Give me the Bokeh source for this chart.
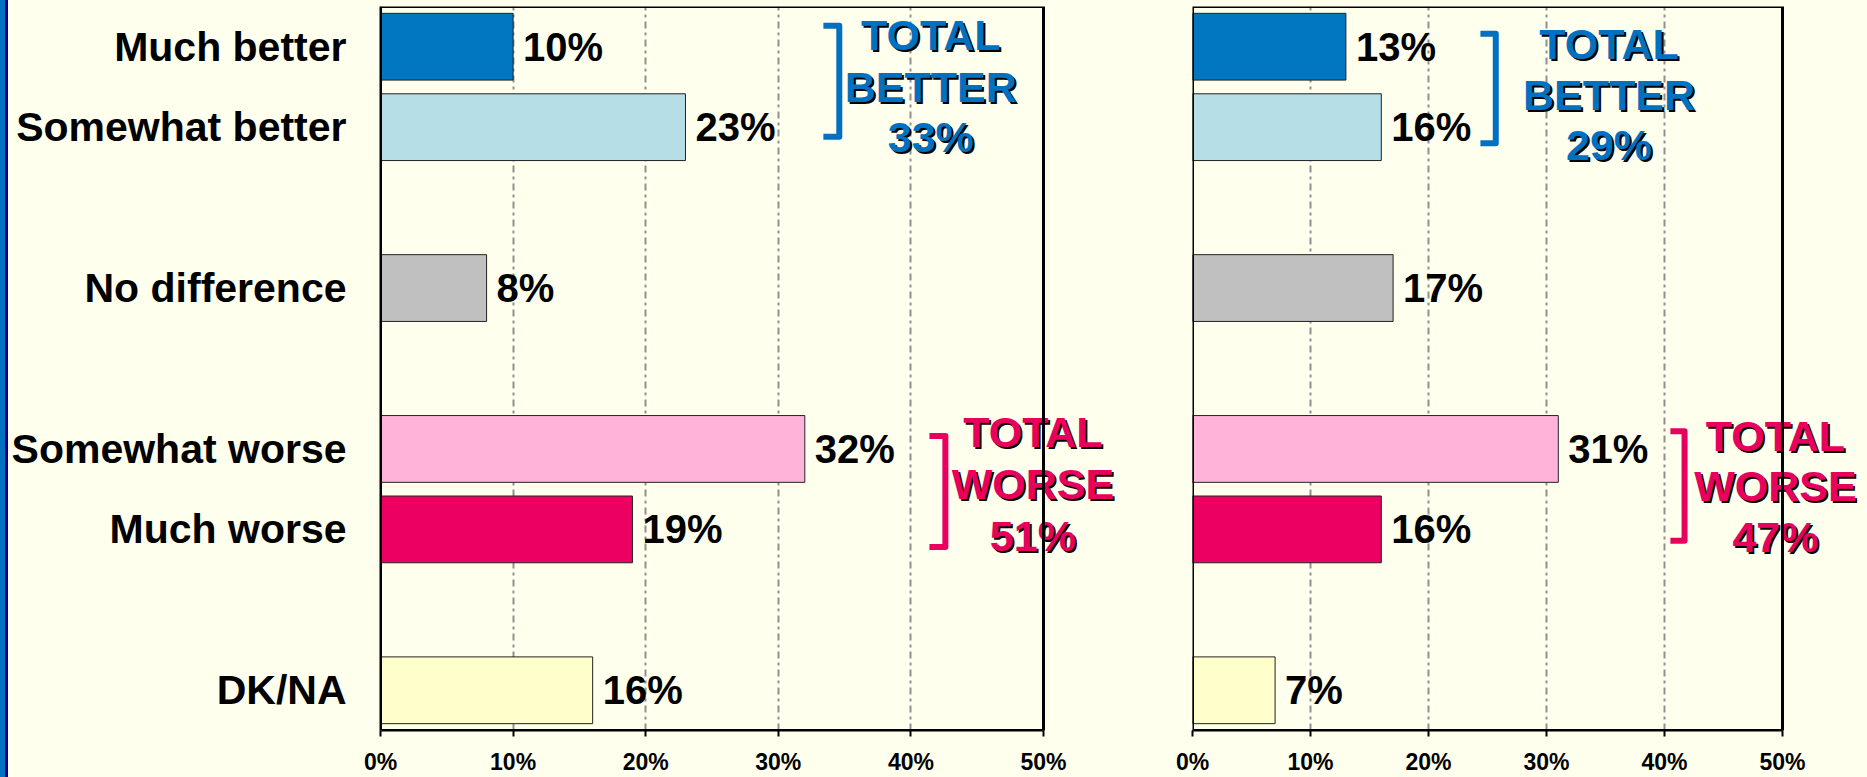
from bokeh.plotting import figure
from bokeh.models import (ColumnDataSource, LabelSet, Label, FactorRange, Range1d,
                          FixedTicker, BoxAnnotation)
from bokeh.core.properties import value
from bokeh.layouts import row
from bokeh.embed import file_html
from bokeh.resources import INLINE

# ---------------- data ----------------
answers = ["Much better", "Somewhat better", "No difference", "Somewhat worse", "Much worse", "DK/NA"]
# category axis, with blank spacer rows between the answer groups
categories = ["Much better", "Somewhat better", " ", "No difference", "  ",
              "Somewhat worse", "Much worse", "   ", "DK/NA"]
left_values = [10, 23, 8, 32, 19, 16]
right_values = [13, 16, 17, 31, 16, 7]
bar_colors = ["#0077C0", "#B6DEE6", "#C0C0C0", "#FFB3D9", "#EC0062", "#FFFFCC"]
tick_values = [0, 10, 20, 30, 40, 50]
tick_labels = ["0%", "10%", "20%", "30%", "40%", "50%"]
total_better = [33, 29]
total_worse = [51, 47]

BG = "#FFFFEE"
BLUE = "#0070C0"
RED = "#E8005E"
FONT = "Liberation Sans"
X_MAX = 50

# annotation layout (x in % units, y in synthetic category units; 9 = top)
better_layout = [
    dict(bx=(33.4, 34.6), by=(8.76, 7.38), tx=41.5, ty=(8.64, 8.00, 7.38)),
    dict(bx=(24.4, 25.7), by=(8.66, 7.30), tx=35.3, ty=(8.54, 7.90, 7.28)),
]
worse_layout = [
    dict(bx=(41.4, 42.6), by=(3.66, 2.28), tx=49.2, ty=(3.71, 3.06, 2.42)),
    dict(bx=(40.5, 41.7), by=(3.72, 2.36), tx=49.4, ty=(3.66, 3.04, 2.40)),
]


def shadow_text(p, x, y, text, color, size="43px"):
    for dx, dy, c in ((2, -2, "black"), (0, 0, color)):
        p.add_layout(Label(x=x, y=y, text=text, x_offset=dx, y_offset=dy,
                           text_color=c, text_font=FONT, text_font_style="bold",
                           text_font_size=size, text_align="center",
                           text_baseline="middle"))


def make_panel(values, idx, show_labels, border_left, plot_px, extra_px):
    frame_px = plot_px + extra_px
    x_end = X_MAX * frame_px / plot_px   # room right of 50% for the totals
    p = figure(width=border_left + frame_px, height=777, output_backend="svg",
               toolbar_location=None,
               x_range=Range1d(0, x_end), y_range=FactorRange(factors=list(reversed(categories))),
               y_axis_location="left" if show_labels else None,
               min_border_left=border_left, min_border_right=0,
               min_border_top=6, min_border_bottom=45)
    p.background_fill_color = BG
    p.border_fill_color = BG
    p.outline_line_color = None

    src = ColumnDataSource(dict(cat=answers, value=values, color=bar_colors,
                                label=[f"{v}%" for v in values]))
    p.hbar(y="cat", left=0, right="value", height=0.83, fill_color="color",
           line_color="#222222", line_width=1, source=src)

    p.add_layout(LabelSet(x="value", y="cat", text="label", source=src, x_offset=10,
                          text_baseline="middle", text_font=value(FONT),
                          text_font_style="bold", text_font_size="40px",
                          text_color="black"))

    # grid
    p.ygrid.grid_line_color = None
    p.xgrid.ticker = FixedTicker(ticks=tick_values[1:])
    p.xgrid.grid_line_color = "#909090"
    p.xgrid.grid_line_width = 2
    p.xgrid.grid_line_dash = "7 4 3 4"

    # x axis
    xa = p.xaxis[0]
    xa.bounds = (0, X_MAX)
    xa.ticker = FixedTicker(ticks=tick_values)
    xa.major_label_overrides = {v: t for v, t in zip(tick_values, tick_labels)}
    xa.axis_line_color = "black"
    xa.axis_line_width = 2
    xa.major_tick_line_color = "black"
    xa.major_tick_line_width = 2
    xa.major_tick_in = 0
    xa.major_tick_out = 6
    xa.minor_tick_line_color = None
    xa.major_label_standoff = 12
    xa.major_label_text_font = FONT
    xa.major_label_text_font_style = "bold"
    xa.major_label_text_font_size = "23px"
    xa.major_label_text_color = "black"

    if show_labels:
        ya = p.yaxis[0]
        ya.axis_line_color = "black"
        ya.axis_line_width = 2
        ya.major_tick_line_color = None
        ya.major_tick_out = 0
        ya.major_tick_in = 0
        ya.minor_tick_line_color = None
        ya.minor_tick_out = 0
        ya.major_label_standoff = 34
        ya.major_label_text_font = FONT
        ya.major_label_text_font_style = "bold"
        ya.major_label_text_font_size = "41px"
        ya.major_label_text_color = "black"

    # group brackets and totals
    for lay, color, word, total in ((better_layout[idx], BLUE, "BETTER", total_better[idx]),
                                    (worse_layout[idx], RED, "WORSE", total_worse[idx])):
        x0, x1 = lay["bx"]
        top, bot = lay["by"]
        p.line(x=[x0, x1, x1, x0], y=[top, top, bot, bot], line_color=color,
               line_width=6, line_join="round")
        for txt, ty in zip(["TOTAL", word, f"{total}%"], lay["ty"]):
            shadow_text(p, lay["tx"], ty, txt, color)

    # plot-area border from 0% to 50%
    p.add_layout(BoxAnnotation(left=0, right=X_MAX, fill_alpha=0, line_color="black",
                               line_width=3, line_alpha=1))
    return p


p1 = make_panel(left_values, 0, True, 372, 663, 80)
p2 = make_panel(right_values, 1, False, 69, 590, 77)
layout = row(p1, p2)

html = file_html(layout, INLINE)
html = html.replace("</head>",
                    "<style>html{background:linear-gradient(to right,#0070C0 0 5px,#000080 5px 8px,"
                    + BG + " 8px);}body{background:transparent;padding-left:8px;}</style></head>", 1)
open("out.html", "w").write(html)
